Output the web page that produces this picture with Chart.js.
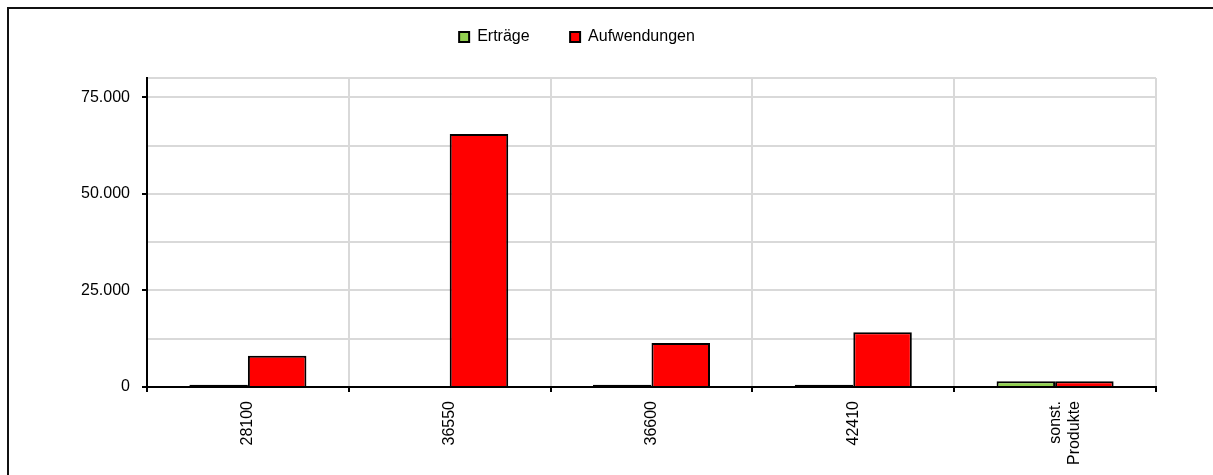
<!DOCTYPE html>
<html><head><meta charset="utf-8">
<script src="https://cdn.jsdelivr.net/npm/chart.js@4/dist/chart.umd.min.js"></script>
<style>
html,body{margin:0;padding:0;width:1213px;height:475px;overflow:hidden;background:#fff;position:relative}
#frame{position:absolute;left:7px;top:7px;width:1300px;height:600px;border-top:2px solid #111;border-left:2px solid #111;}
#c{position:absolute;left:-20px;top:-17px;}
</style></head><body>
<div id="frame"></div>
<canvas id="c" width="1233" height="492"></canvas>
<script>
const categories = ['28100', '36550', '36600', '42410', ['sonst.', 'Produkte']];
const ertraege = [600, 0, 600, 600, 1500];
const aufwendungen = [8100, 65500, 11400, 14200, 1500];
const yGridTicks = [0, 12500, 25000, 37500, 50000, 62500, 75000, 80000];
const yLabeledTicks = [0, 25000, 50000, 75000];
const seriesNames = ['Erträge', 'Aufwendungen'];

const FONT = "'Liberation Sans', Arial, sans-serif";
const FSIZE = 16;
function fmt(v) { return String(v).replace(/\B(?=(\d{3})+(?!\d))/g, '.'); }
const skip = (ctx) => (ctx.raw !== undefined && ctx.raw < 1000) ? false : 'start';

const legendSpacer = {
  id: 'legendSpacer',
  beforeInit(chart) {
    const orig = chart.legend.fit;
    chart.legend.fit = function () { orig.call(this); this.height = 89.5; };
  }
};

new Chart(document.getElementById('c'), {
  type: 'bar',
  data: {
    labels: categories,
    datasets: [
      { label: seriesNames[0], data: ertraege, backgroundColor: '#92D050', borderColor: '#000', borderWidth: 2, borderSkipped: skip },
      { label: seriesNames[1], data: aufwendungen, backgroundColor: '#FF0000', borderColor: '#000', borderWidth: 2, borderSkipped: skip }
    ]
  },
  options: {
    responsive: false,
    animation: false,
    devicePixelRatio: 1,
    layout: { padding: { left: 18, right: 57, top: 5.5, bottom: 0 } },
    datasets: { bar: { categoryPercentage: 0.58, barPercentage: 1.0 } },
    plugins: {
      legend: {
        position: 'top',
        labels: {
          font: { family: FONT, size: FSIZE },
          color: '#000',
          boxWidth: 10,
          boxHeight: 10,
          padding: 40.5
        }
      },
      tooltip: { enabled: false }
    },
    scales: {
      x: {
        afterFit(s) { s.height = 88; },
        grid: { color: '#d9d9d9', lineWidth: 2, offset: true, tickLength: 5, tickColor: '#000', tickWidth: 2 },
        border: { color: '#000', width: 2 },
        ticks: { font: { family: FONT, size: FSIZE }, color: '#000', maxRotation: 90, minRotation: 90, padding: 9, autoSkip: false }
      },
      y: {
        min: 0,
        max: 80000,
        afterFit(s) { s.width = 149; },
        afterBuildTicks(s) { s.ticks = yGridTicks.map(v => ({ value: v })); },
        grid: {
          color: '#d9d9d9', lineWidth: 2, tickLength: 5, tickWidth: 2,
          tickColor: (ctx) => (ctx.tick && yLabeledTicks.includes(ctx.tick.value)) ? '#000' : 'rgba(0,0,0,0)'
        },
        border: { color: '#000', width: 2 },
        ticks: {
          font: { family: FONT, size: FSIZE },
          color: '#000',
          padding: 12,
          callback: (v) => yLabeledTicks.includes(v) ? fmt(v) : ''
        }
      }
    }
  },
  plugins: [legendSpacer]
});
</script>
</body></html>
